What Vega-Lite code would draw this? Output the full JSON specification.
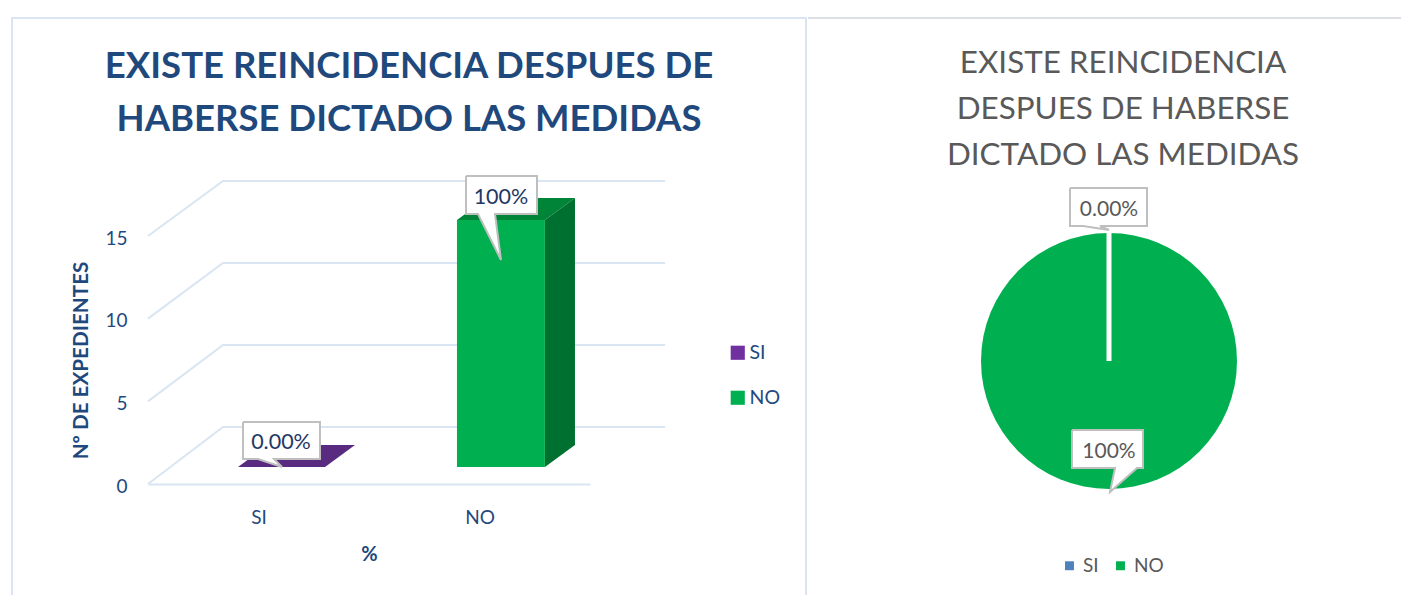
{
"$schema":"https://vega.github.io/schema/vega-lite/v6.json",
"padding":{"left":7,"top":13,"right":0,"bottom":0},
"background":"white",
"bounds":"flush",
"spacing":227,
"config":{"font":"Lato","view":{"stroke":null}},
"resolve":{"scale":{"color":"independent"},"legend":{"color":"independent"}},
"datasets":{
"lineas":[
{"id":"v0","x":0,"y":0,"o":1},{"id":"v0","x":16.97,"y":3.45,"o":2},{"id":"v0","x":117,"y":3.45,"o":3},
{"id":"v5","x":0,"y":5,"o":1},{"id":"v5","x":16.97,"y":8.41,"o":2},{"id":"v5","x":117,"y":8.41,"o":3},
{"id":"v10","x":0,"y":10,"o":1},{"id":"v10","x":16.97,"y":13.37,"o":2},{"id":"v10","x":117,"y":13.37,"o":3},
{"id":"v15","x":0,"y":15,"o":1},{"id":"v15","x":16.97,"y":18.33,"o":2},{"id":"v15","x":117,"y":18.33,"o":3},
{"id":"marco","x":-30.77,"y":-6.71,"o":1},{"id":"marco","x":-30.77,"y":28.19,"o":2},{"id":"marco","x":148.87,"y":28.19,"o":3},{"id":"marco","x":148.87,"y":-6.71,"o":4}
],
"frente":[
{"serie":"SI","x":20.36,"x2":40.05,"y":1.03,"y2":1.03},
{"serie":"NO","x":69.9,"x2":89.8,"y":1.03,"y2":15.97}
],
"llamadasA":[
{"id":"SI","x":21.49,"y":3.75,"o":1},{"id":"SI","x":38.91,"y":3.75,"o":2},{"id":"SI","x":38.91,"y":1.51,"o":3},{"id":"SI","x":28.51,"y":1.51,"o":4},{"id":"SI","x":30.32,"y":1.03,"o":5},{"id":"SI","x":24.89,"y":1.51,"o":6},{"id":"SI","x":21.49,"y":1.51,"o":7},{"id":"SI","x":21.49,"y":3.75,"o":8},
{"id":"NO","x":71.95,"y":18.63,"o":1},{"id":"NO","x":88.01,"y":18.63,"o":2},{"id":"NO","x":88.01,"y":16.33,"o":3},{"id":"NO","x":78.51,"y":16.33,"o":4},{"id":"NO","x":79.86,"y":13.55,"o":5},{"id":"NO","x":74.66,"y":16.33,"o":6},{"id":"NO","x":71.95,"y":16.33,"o":7},{"id":"NO","x":71.95,"y":18.63,"o":8}
],
"llamadasB":[
{"id":"SI","x":43.32,"y":119.2,"o":1},{"id":"SI","x":56.51,"y":119.2,"o":2},{"id":"SI","x":56.51,"y":104,"o":3},{"id":"SI","x":48.46,"y":104,"o":4},{"id":"SI","x":50,"y":102.4,"o":5},{"id":"SI","x":45.55,"y":104,"o":6},{"id":"SI","x":43.32,"y":104,"o":7},{"id":"SI","x":43.32,"y":119.2,"o":8},
{"id":"NO","x":43.66,"y":22.4,"o":1},{"id":"NO","x":55.82,"y":22.4,"o":2},{"id":"NO","x":55.82,"y":7.2,"o":3},{"id":"NO","x":54.8,"y":7.2,"o":4},{"id":"NO","x":50.17,"y":-2.4,"o":5},{"id":"NO","x":51.03,"y":7.2,"o":6},{"id":"NO","x":43.66,"y":7.2,"o":7},{"id":"NO","x":43.66,"y":22.4,"o":8}
]
},
"hconcat":[
{
"width":442,"height":248,
"title":{"text":["EXISTE REINCIDENCIA DESPUES DE","HABERSE DICTADO LAS MEDIDAS"],"anchor":"middle","dx":40,"fontSize":36.5,"fontWeight":"bold","color":"#1F497D","lineHeight":53,"offset":-125},
"layer":[
{"data":{"name":"lineas"},"mark":{"type":"line","clip":false,"strokeWidth":2,"color":"#DAE5F4"},
"encoding":{
"x":{"field":"x","type":"quantitative","scale":{"domain":[0,100],"nice":false},
"axis":{"values":[25,75],"labelExpr":"datum.value==25?'SI':'NO'","title":"%","titleFontSize":20,"titleFontWeight":"bold","titleColor":"#1F497D","titlePadding":17,"labelFontSize":19,"labelColor":"#1F497D","labelPadding":24,"ticks":false,"grid":false,"domainColor":"#DAE5F4","domainWidth":2}},
"y":{"field":"y","type":"quantitative","scale":{"domain":[0,15],"nice":false},
"axis":{"values":[0,5,10,15],"title":"Nº DE EXPEDIENTES","titleFontSize":20.7,"titleFontWeight":"bold","titleColor":"#1F497D","titlePadding":13,"labelFontSize":19,"labelColor":"#1F497D","labelPadding":21,"labelOffset":2,"ticks":false,"grid":false,"domain":false}},
"detail":{"field":"id"},"order":{"field":"o"}}},
{"data":{"values":[{"x":20.36,"x2":40.05,"y":1.03},{"x":27.15,"x2":46.83,"y":2.36}]},"mark":{"type":"area","orient":"horizontal","clip":false,"color":"#582A80"},
"encoding":{"y":{"field":"y","type":"quantitative"},"x":{"field":"x","type":"quantitative"},"x2":{"field":"x2"}}},
{"data":{"values":[{"x":69.9,"x2":89.8,"y":15.97},{"x":76.7,"x2":96.6,"y":17.3}]},"mark":{"type":"area","orient":"horizontal","clip":false,"color":"#008538"},
"encoding":{"y":{"field":"y","type":"quantitative"},"x":{"field":"x","type":"quantitative"},"x2":{"field":"x2"}}},
{"data":{"values":[{"x":89.8,"y":1.03,"y2":15.97},{"x":96.6,"y":2.36,"y2":17.3}]},"mark":{"type":"area","orient":"vertical","clip":false,"color":"#007030"},
"encoding":{"x":{"field":"x","type":"quantitative"},"y":{"field":"y","type":"quantitative"},"y2":{"field":"y2"}}},
{"data":{"name":"frente"},"mark":{"type":"rect","clip":false},
"encoding":{"x":{"field":"x","type":"quantitative"},"x2":{"field":"x2"},"y":{"field":"y","type":"quantitative"},"y2":{"field":"y2"},
"color":{"field":"serie","type":"nominal","scale":{"domain":["SI","NO"],"range":["#7030A0","#00B050"]},
"legend":{"title":null,"orient":"none","legendX":580,"legendY":107,"labelFontSize":19.5,"labelColor":"#1F497D","symbolType":"square","symbolSize":200,"symbolStrokeWidth":0,"rowPadding":24,"labelOffset":2}}}},
{"data":{"name":"llamadasA"},"mark":{"type":"line","clip":false,"fill":"white","stroke":"#BFBFBF","strokeWidth":2},
"encoding":{"x":{"field":"x","type":"quantitative"},"y":{"field":"y","type":"quantitative"},"detail":{"field":"id"},"order":{"field":"o"}}},
{"data":{"values":[{"x":30.09,"y":2.6,"t":"0.00%"},{"x":79.86,"y":17.42,"t":"100%"}]},"mark":{"type":"text","fontSize":21.5,"dy":2,"color":"#1F3864","clip":false},
"encoding":{"x":{"field":"x","type":"quantitative"},"y":{"field":"y","type":"quantitative"},"text":{"field":"t"}}}
]
},
{
"width":584,"height":250,
"title":{"text":["EXISTE REINCIDENCIA","DESPUES DE HABERSE","DICTADO LAS MEDIDAS"],"anchor":"middle","dx":14,"fontSize":31.4,"fontWeight":"normal","color":"#595959","lineHeight":46,"offset":-157},
"layer":[
{"data":{"values":[{"serie":"SI","v":0},{"serie":"NO","v":100}]},"mark":{"type":"arc","outerRadius":128,"clip":false},
"encoding":{"theta":{"field":"v","type":"quantitative"},
"color":{"field":"serie","type":"nominal","scale":{"domain":["SI","NO"],"range":["#4F81BD","#00B050"]},
"legend":{"title":null,"orient":"none","direction":"horizontal","legendX":243,"legendY":320,"labelFontSize":19,"labelColor":"#595959","symbolType":"square","symbolSize":80,"symbolStrokeWidth":0,"columnPadding":12}}}},
{"data":{"values":[{"id":"corte","x":50,"y":50},{"id":"corte","x":50,"y":101.2}]},"mark":{"type":"line","clip":false,"strokeWidth":5,"color":"white"},
"encoding":{"x":{"field":"x","type":"quantitative","scale":{"domain":[0,100],"nice":false},"axis":null},"y":{"field":"y","type":"quantitative","scale":{"domain":[0,100],"nice":false},"axis":null}}},
{"data":{"values":[{"x":-1.54,"y":187.2},{"x":100,"y":187.2}]},"mark":{"type":"line","clip":false,"strokeWidth":2,"color":"#DCDFE3"},
"encoding":{"x":{"field":"x","type":"quantitative"},"y":{"field":"y","type":"quantitative"}}},
{"data":{"name":"llamadasB"},"mark":{"type":"line","clip":false,"fill":"white","stroke":"#BFBFBF","strokeWidth":2},
"encoding":{"x":{"field":"x","type":"quantitative"},"y":{"field":"y","type":"quantitative"},"detail":{"field":"id"},"order":{"field":"o"}}},
{"data":{"values":[{"x":50,"y":111.2,"t":"0.00%"},{"x":50,"y":14.4,"t":"100%"}]},"mark":{"type":"text","fontSize":21,"dy":1.5,"color":"#595959","clip":false},
"encoding":{"x":{"field":"x","type":"quantitative"},"y":{"field":"y","type":"quantitative"},"text":{"field":"t"}}}
]
}
]
}
